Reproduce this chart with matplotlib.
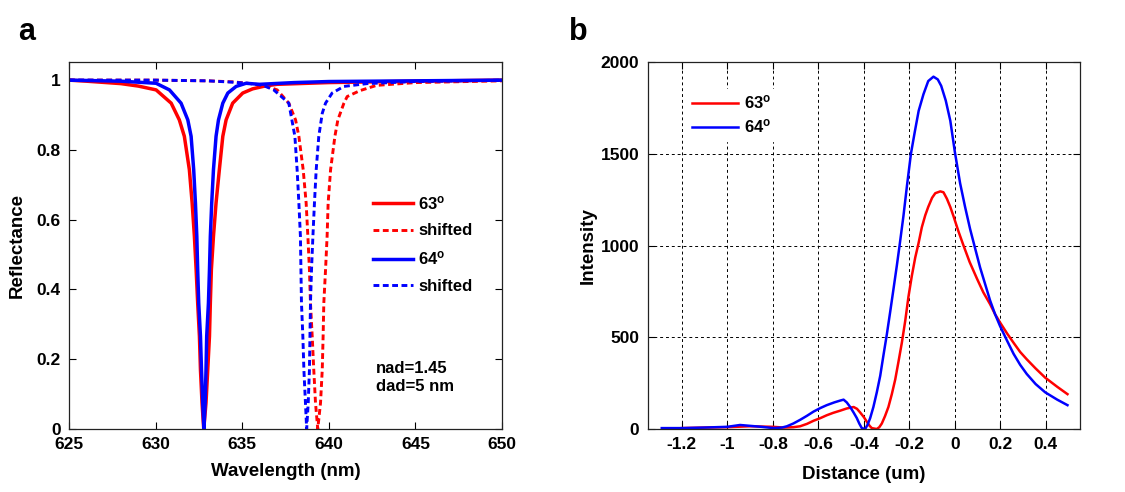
import matplotlib

matplotlib.use("Agg")
import matplotlib.pyplot as plt

plt.rcParams["font.family"] = ["Liberation Sans", "DejaVu Sans"]
plt.rcParams["font.weight"] = "bold"
plt.rcParams["mathtext.default"] = "regular"

# ---- panel a: reflectance spectra ----
wl_63 = [625.0, 626.0, 628.0, 629.0, 630.03, 630.9, 631.37, 631.66, 631.95, 632.11, 632.24,
         632.34, 632.43, 632.53, 632.59, 632.68, 632.78, 632.91, 633.01, 633.11, 633.16,
         633.22, 633.34, 633.49, 633.68, 633.88, 634.07, 634.45, 635.03, 635.6, 636.3,
         637.0, 640.0, 645.0, 650.0]
r_63 = [1.0, 0.997, 0.99, 0.983, 0.972, 0.934, 0.886, 0.839, 0.743, 0.648, 0.552,
        0.457, 0.361, 0.266, 0.17, 0.075, 0.0, 0.075, 0.17, 0.266, 0.361,
        0.457, 0.552, 0.648, 0.743, 0.839, 0.886, 0.934, 0.963, 0.975, 0.983,
        0.988, 0.993, 0.997, 1.0]

wl_64 = [625.0, 628.0, 630.03, 630.8, 631.47, 631.86, 632.05, 632.2, 632.3, 632.38, 632.43,
         632.49, 632.59, 632.65, 632.72, 632.79, 632.86, 632.91, 632.95, 633.05, 633.11,
         633.16, 633.24, 633.34, 633.49, 633.63, 633.88, 634.17, 634.65, 635.22, 636.0,
         638.0, 640.0, 645.0, 650.0]
r_64 = [1.0, 0.997, 0.991, 0.972, 0.934, 0.886, 0.839, 0.743, 0.648, 0.552, 0.457,
        0.361, 0.266, 0.17, 0.075, 0.0, 0.075, 0.17, 0.266, 0.361, 0.457,
        0.552, 0.648, 0.743, 0.839, 0.886, 0.934, 0.963, 0.982, 0.991, 0.988,
        0.993, 0.996, 0.998, 1.0]

wl_63s = [625.0, 630.0, 633.0, 634.5, 635.5, 636.3, 637.02, 637.69, 638.08, 638.27, 638.52,
          638.69, 638.79, 638.88, 638.94, 639.04, 639.13, 639.23, 639.36, 639.52, 639.62,
          639.67, 639.71, 639.81, 639.9, 639.96, 640.1, 640.35, 640.52, 640.87, 641.06,
          641.8, 642.76, 645.0, 650.0]
r_63s = [1.0, 1.0, 0.998, 0.995, 0.99, 0.984, 0.972, 0.934, 0.886, 0.839, 0.743,
         0.648, 0.552, 0.457, 0.361, 0.266, 0.17, 0.075, 0.0, 0.075, 0.17,
         0.266, 0.361, 0.457, 0.552, 0.648, 0.743, 0.839, 0.886, 0.934, 0.953,
         0.97, 0.985, 0.993, 0.998]

wl_64s = [625.0, 630.0, 633.0, 634.5, 635.5, 636.2, 636.82, 637.69, 638.04, 638.17, 638.27,
          638.36, 638.42, 638.5, 638.56, 638.65, 638.72, 638.81, 638.88, 638.94, 639.0,
          639.08, 639.17, 639.27, 639.42, 639.62, 639.81, 640.19, 640.87, 642.2, 645.0,
          650.0]
r_64s = [1.0, 1.0, 0.998, 0.994, 0.99, 0.985, 0.972, 0.934, 0.839, 0.743, 0.648,
         0.552, 0.361, 0.266, 0.17, 0.075, 0.0, 0.075, 0.17, 0.361, 0.457,
         0.552, 0.648, 0.743, 0.839, 0.905, 0.934, 0.963, 0.982, 0.99, 0.996,
         1.0]

# ---- panel b: intensity profiles ----
d_63 = [-1.2, -1.1, -1.0, -0.9, -0.8, -0.75, -0.71, -0.68, -0.65, -0.621, -0.59, -0.563,
        -0.535, -0.504, -0.475, -0.445, -0.43, -0.416, -0.4, -0.387, -0.375, -0.365, -0.343,
        -0.332, -0.321, -0.307, -0.292, -0.277, -0.262, -0.248, -0.233, -0.218, -0.204,
        -0.189, -0.174, -0.16, -0.145, -0.13, -0.117, -0.1, -0.086, -0.064, -0.05, -0.035,
        -0.02, -0.006, 0.015, 0.038, 0.065, 0.097, 0.125, 0.155, 0.177, 0.199, 0.23,
        0.258, 0.287, 0.316, 0.355, 0.397, 0.45, 0.495]
i_63 = [5, 8, 10, 15, 12, 8, 10, 15, 28, 45, 60, 75,
        88, 100, 112, 120, 110, 90, 65, 40, 18, 5, 0,
        10, 30, 70, 120, 190, 270, 365, 470, 590, 720,
        835, 935, 1010, 1100, 1165, 1210, 1260, 1285, 1295, 1290, 1255,
        1210, 1160, 1080, 1000, 910, 820, 745, 680, 625, 580, 520,
        470, 420, 380, 330, 280, 230, 190]

d_64 = [-1.288, -1.2, -1.1, -1.0, -0.944, -0.85, -0.797, -0.76, -0.738, -0.71, -0.68, -0.65,
        -0.621, -0.59, -0.563, -0.53, -0.504, -0.489, -0.475, -0.46, -0.445, -0.431, -0.42,
        -0.409, -0.394, -0.383, -0.372, -0.358, -0.343, -0.328, -0.314, -0.299, -0.284,
        -0.27, -0.255, -0.244, -0.226, -0.21, -0.193, -0.176, -0.159, -0.138, -0.117,
        -0.094, -0.075, -0.06, -0.04, -0.02, 0.0, 0.023, 0.045, 0.067, 0.09, 0.111, 0.133,
        0.155, 0.177, 0.199, 0.23, 0.258, 0.287, 0.316, 0.355, 0.397, 0.45, 0.495]
i_64 = [5, 5, 8, 12, 22, 12, 5, 8, 15, 30, 50, 72,
        95, 115, 130, 145, 155, 160, 145, 120, 90, 60, 30,
        5, 0, 25, 60, 120, 200, 290, 400, 515, 640,
        760, 890, 990, 1160, 1330, 1500, 1620, 1734, 1824, 1896,
        1920, 1905, 1870, 1790, 1680, 1510, 1340, 1210, 1090, 980, 880, 790,
        700, 625, 560, 480, 410, 350, 300, 245, 200, 160, 130]

RED = "#ff0000"
BLUE = "#0000ff"

fig = plt.figure(figsize=(11.25, 4.92), dpi=100)
ax1 = fig.add_axes([0.0613, 0.128, 0.385, 0.746])
ax2 = fig.add_axes([0.5757, 0.128, 0.3843, 0.746])

dash = (0, (2.0, 1.2))
ax1.plot(wl_63, r_63, color=RED, lw=2.5, label="63$^{o}$")
ax1.plot(wl_63s, r_63s, color=RED, lw=2.1, ls=dash, label="shifted")
ax1.plot(wl_64, r_64, color=BLUE, lw=2.5, label="64$^{o}$")
ax1.plot(wl_64s, r_64s, color=BLUE, lw=2.1, ls=dash, label="shifted")
ax1.set_xlim(625, 650)
ax1.set_ylim(0, 1.052)
ax1.set_xticks([625, 630, 635, 640, 645, 650])
ax1.set_xticklabels(["625", "630", "635", "640", "645", "650"])
ax1.set_yticks([0, 0.2, 0.4, 0.6, 0.8, 1])
ax1.set_yticklabels(["0", "0.2", "0.4", "0.6", "0.8", "1"])
ax1.set_xlabel("Wavelength (nm)", fontsize=13.5, fontweight="bold", labelpad=8)
ax1.set_ylabel("Reflectance", fontsize=13.5, fontweight="bold", labelpad=8)
ax1.legend(loc="upper left", bbox_to_anchor=(0.702, 0.64), frameon=False, fontsize=12,
           handlelength=2.4, labelspacing=0.68, handletextpad=0.3, borderpad=0,
           borderaxespad=0)
ax1.text(0.708, 0.14, "nad=1.45\ndad=5 nm", transform=ax1.transAxes, fontsize=12,
         fontweight="bold", va="center", linespacing=1.3)

ax2.plot(d_63, i_63, color=RED, lw=1.8, label="63$^{o}$")
ax2.plot(d_64, i_64, color=BLUE, lw=1.8, label="64$^{o}$")
ax2.set_xlim(-1.35, 0.55)
ax2.set_ylim(0, 2000)
ax2.set_xticks([-1.2, -1, -0.8, -0.6, -0.4, -0.2, 0, 0.2, 0.4])
ax2.set_xticklabels(["-1.2", "-1", "-0.8", "-0.6", "-0.4", "-0.2", "0", "0.2", "0.4"])
ax2.set_yticks([0, 500, 1000, 1500, 2000])
ax2.grid(True, color="k", linestyle=(0, (3, 3)), linewidth=0.7)
ax2.set_axisbelow(True)
ax2.set_xlabel("Distance (um)", fontsize=13.5, fontweight="bold", labelpad=10)
ax2.set_ylabel("Intensity", fontsize=13.5, fontweight="bold", labelpad=3)
leg = ax2.legend(loc="upper left", bbox_to_anchor=(0.072, 0.95), frameon=True, fontsize=12,
                 handlelength=2.75, labelspacing=0.35, handletextpad=0.35, fancybox=False,
                 borderpad=0.3)
leg.get_frame().set_facecolor("white")
leg.get_frame().set_edgecolor("white")
leg.get_frame().set_alpha(1.0)

for ax in (ax1, ax2):
    ax.tick_params(direction="in", top=True, right=True, labelsize=12.5, length=5,
                   width=0.8, colors="k", pad=6)
    for lab in ax.get_xticklabels() + ax.get_yticklabels():
        lab.set_fontweight("bold")
    for sp in ax.spines.values():
        sp.set_linewidth(0.9)
        sp.set_color("#222222")

fig.text(0.016, 0.935, "a", fontsize=22, fontweight="bold", va="center")
fig.text(0.506, 0.935, "b", fontsize=22, fontweight="bold", va="center")

fig.savefig("out.png", dpi=100)
